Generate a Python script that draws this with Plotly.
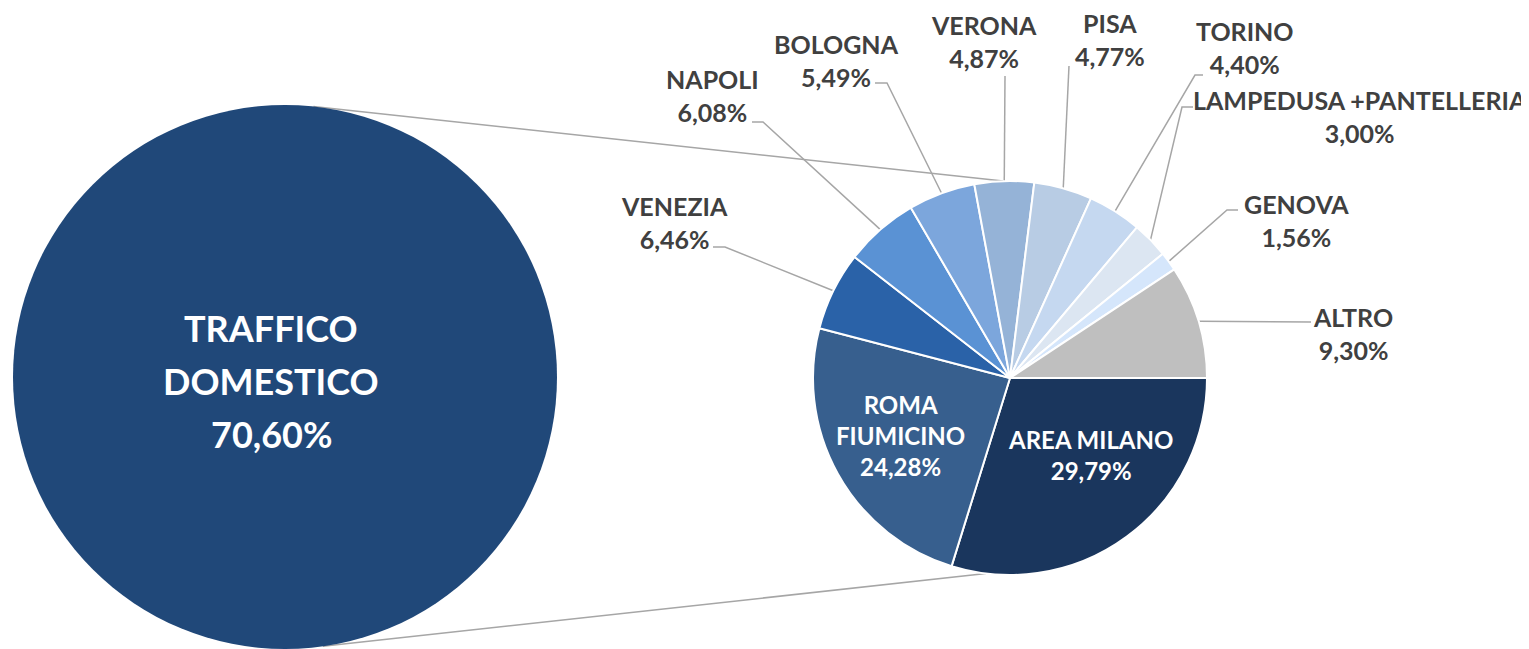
import math
import plotly.graph_objects as go

# ---------------- data ----------------
categories = ["AREA MILANO", "ROMA FIUMICINO", "VENEZIA", "NAPOLI", "BOLOGNA", "VERONA",
              "PISA", "TORINO", "LAMPEDUSA +PANTELLERIA", "GENOVA", "ALTRO"]
shares = [29.79, 24.28, 6.46, 6.08, 5.49, 4.87, 4.77, 4.40, 3.00, 1.56, 9.30]
total_name = "TRAFFICO DOMESTICO"
total_share = 70.60

slice_colors = ["#1A365D", "#375F8E", "#2A62A8", "#5A92D4", "#7CA6DC", "#95B3D7",
                "#B8CCE4", "#C5D8F0", "#DCE6F2", "#D5E6FB", "#BFBFBF"]
big_color = "#204879"

# ---------------- layout geometry (screen pixels) ----------------
WIN_W, WIN_H = 1529, 649
PAGE_MARGIN = 8                       # default body margin of the page
W, H = WIN_W - PAGE_MARGIN, WIN_H - PAGE_MARGIN
PIE_C, PIE_R = (1010, 378), 197
BIG_C, BIG_R = (285, 377), 272

# label placement: category -> (label centre x, y, leader elbow points from label side)
outside_labels = {
    "VENEZIA": (674, 222, [(725, 247), (713, 247)]),
    "NAPOLI": (712, 95, [(763, 122), (752, 122)]),
    "BOLOGNA": (836, 60, [(887, 83), (875, 83)]),
    "VERONA": (984, 41, [(1005, 76)]),
    "PISA": (1110, 39, [(1069, 66)]),
    "TORINO": (1245, 47, [(1195, 75), (1203, 75)]),
    "LAMPEDUSA +PANTELLERIA": (1360, 116, [(1182, 107), (1193, 107)]),
    "GENOVA": (1296, 220, [(1227, 210), (1238, 210)]),
    "ALTRO": (1353, 333, [(1311, 322)]),
}
inside_labels = {
    "AREA MILANO": (1090, 455),
    "ROMA FIUMICINO": (900, 435),
}
BIG_LABEL_C, BIG_LABEL_STEP = (271, 381), 53
# connector lines between the two circles: (angle on big circle, angle on pie), degrees
connectors = [(-84, -92), (82, 97)]

LABEL_FONT = dict(family="Lato", size=25, color="#404040", weight="bold")
LEADER_COLOR = "#A6A6A6"


def fmt(v):
    return f"{v:.2f}".replace(".", ",") + "%"


def on_circle(c, r, deg):
    a = math.radians(deg)
    return c[0] + r * math.cos(a), c[1] + r * math.sin(a)


def dom(c, r):
    return dict(x=[(c[0] - r - PAGE_MARGIN) / W, (c[0] + r - PAGE_MARGIN) / W],
                y=[(WIN_H - c[1] - r) / H, (WIN_H - c[1] + r) / H])


fig = go.Figure()

# hidden screen-pixel axes for the connectors / leader lines / labels
fig.update_xaxes(range=[PAGE_MARGIN, WIN_W], visible=False, fixedrange=True)
fig.update_yaxes(range=[WIN_H, PAGE_MARGIN], visible=False, fixedrange=True)

# big circle (total domestic traffic)
fig.add_trace(go.Pie(
    values=[total_share], labels=[total_name], sort=False, textinfo="none",
    marker=dict(colors=[big_color], line=dict(width=0)),
    domain=dom(BIG_C, BIG_R), hoverinfo="skip", showlegend=False,
))

# breakdown pie
fig.add_trace(go.Pie(
    values=shares, labels=categories, sort=False, direction="clockwise", rotation=90,
    textinfo="none",
    marker=dict(colors=slice_colors, line=dict(color="white", width=2)),
    domain=dom(PIE_C, PIE_R), hoverinfo="skip", showlegend=False,
))

# connector lines
for big_deg, pie_deg in connectors:
    p1 = on_circle(BIG_C, BIG_R, big_deg)
    p2 = on_circle(PIE_C, PIE_R, pie_deg)
    fig.add_trace(go.Scatter(x=[p1[0], p2[0]], y=[p1[1], p2[1]], mode="lines",
                             line=dict(color=LEADER_COLOR, width=1.5),
                             hoverinfo="skip", showlegend=False))

# leader lines + labels
total = sum(shares)
cum = 0.0
for name, v in zip(categories, shares):
    mid_deg = 360.0 * (cum + v / 2) / total
    cum += v
    if name in outside_labels:
        lx, ly, pts = outside_labels[name]
        anchor = on_circle(PIE_C, PIE_R, mid_deg)
        xs = [anchor[0]] + [p[0] for p in pts]
        ys = [anchor[1]] + [p[1] for p in pts]
        fig.add_trace(go.Scatter(x=xs, y=ys, mode="lines",
                                 line=dict(color=LEADER_COLOR, width=1.5),
                                 hoverinfo="skip", showlegend=False))
        fig.add_annotation(x=lx, y=ly, xref="x", yref="y", showarrow=False,
                           text=f"{name}<br>{fmt(v)}", font=LABEL_FONT, align="center")
    elif name in inside_labels:
        lx, ly = inside_labels[name]
        txt = name.replace(" ", "<br>") if name == "ROMA FIUMICINO" else name
        fig.add_annotation(x=lx, y=ly, xref="x", yref="y", showarrow=False,
                           text=f"{txt}<br>{fmt(v)}",
                           font=dict(family="Lato", size=24, color="white", weight="bold"),
                           align="center")

big_lines = total_name.split(" ") + [fmt(total_share)]
for i, line in enumerate(big_lines):
    fig.add_annotation(x=BIG_LABEL_C[0],
                       y=BIG_LABEL_C[1] + (i - (len(big_lines) - 1) / 2) * BIG_LABEL_STEP,
                       xref="x", yref="y", showarrow=False, text=line,
                       font=dict(family="Lato", size=36, color="white", weight="bold"))

fig.update_layout(width=W, height=H, margin=dict(l=0, r=0, t=0, b=0),
                  paper_bgcolor="white", plot_bgcolor="white")

fig.write_html("out.html")
